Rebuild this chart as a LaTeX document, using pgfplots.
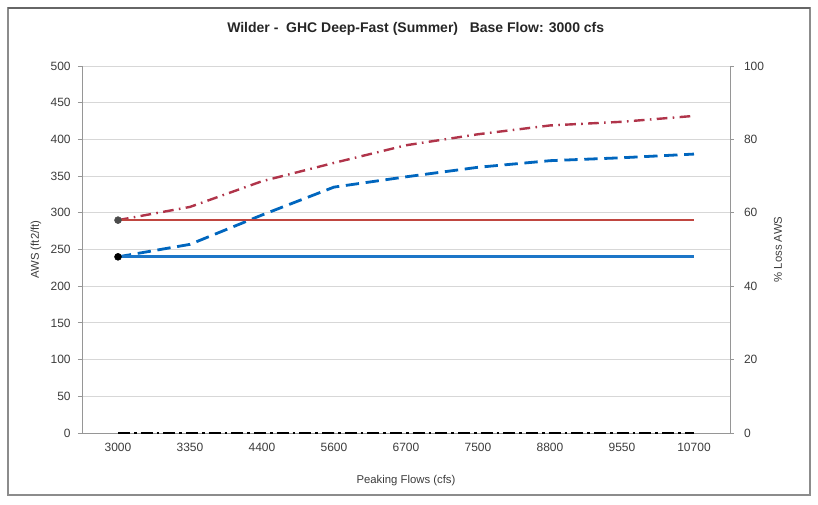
\documentclass[border=0pt]{standalone}
\usepackage{fontspec}
\setmainfont{Liberation Sans}
\usepackage{pgfplots}
\pgfplotsset{compat=1.18}
\definecolor{redsolid}{RGB}{192,70,64}
\definecolor{bluesolid}{RGB}{28,118,200}
\definecolor{reddash}{RGB}{176,52,74}
\definecolor{bluedash}{RGB}{0,102,190}
\definecolor{gridc}{RGB}{215,215,215}
\definecolor{axc}{RGB}{150,150,150}
\definecolor{txt}{RGB}{60,60,60}
\begin{document}
\begin{tikzpicture}[x=0.75pt,y=0.75pt]
\begin{axis}[
  at={(0,0)}, anchor=south west,
  scale only axis, width=486pt, height=275.25pt,
  xmin=-0.5, xmax=8.5, ymin=0, ymax=500,
  xtick={0,...,8},
  xticklabels={3000,3350,4400,5600,6700,7500,8800,9550,10700},
  ytick={0,50,...,500},
  /pgf/number format/assume math mode=true,
  ymajorgrids, grid style={gridc, line width=0.6pt},
  axis x line*=bottom, axis y line*=left,
  axis line style={axc, line width=0.7pt, -},
  every outer x axis line/.append style={-},
  every outer y axis line/.append style={-},
  xtick style={draw=none},
  ytick style={axc, line width=0.6pt},
  tick align=outside, major tick length=3pt,
  ticklabel style={font=\fontsize{9}{10}\selectfont, text=txt},
  xticklabel style={yshift=-1pt},
  yticklabel style={xshift=-2pt},
  xlabel={Peaking Flows (cfs)},
  ylabel={AWS (ft2/ft)},
  xlabel style={font=\fontsize{8.5}{10}\selectfont, text=txt, at={(axis description cs:0.5,-0.131)}, anchor=center},
  ylabel style={font=\fontsize{8.5}{10}\selectfont, text=txt, at={(axis description cs:-0.071,0.5)}, anchor=center},
  title={Wilder -\ \ GHC Deep-Fast (Summer)\ \ \ Base Flow: 3000 cfs},
  title style={font=\bfseries\fontsize{10.5}{12}\selectfont, text=black!85, at={(axis description cs:0.515,1.079)}, anchor=center},
  clip=false,
]
% AWS curves (dashed)
\addplot[reddash, line width=1.8pt, dash pattern=on 8pt off 4pt on 1.2pt off 4pt] coordinates {
 (0,290) (1,308) (2,343) (3,368) (4,392) (5,407) (6,419) (7,424) (8,432)};
\addplot[bluedash, line width=2.1pt, dash pattern=on 10pt off 5pt] coordinates {
 (0,240) (1,257) (2,297) (3,335) (4,349) (5,362) (6,371) (7,375) (8,380)};
% baseline AWS (solid)
\addplot[redsolid, line width=2pt] coordinates {
 (0,290) (1,290) (2,290) (3,290) (4,290) (5,290) (6,290) (7,290) (8,290)};
\addplot[bluesolid, line width=2pt] coordinates {
 (0,240) (1,240) (2,240) (3,240) (4,240) (5,240) (6,240) (7,240) (8,240)};
% start markers
\addplot[only marks, mark=*, mark size=2.6pt, color=black!70, fill=black!70] coordinates {(0,290)};
\addplot[only marks, mark=*, mark size=2.6pt, color=black, fill=black] coordinates {(0,240)};
\end{axis}
\begin{axis}[
  at={(0,0)}, anchor=south west,
  scale only axis, width=486pt, height=275.25pt,
  xmin=-0.5, xmax=8.5, ymin=0, ymax=100,
  axis x line=none, axis y line*=right,
  axis line style={axc, line width=0.7pt, -},
  every outer y axis line/.append style={-},
  ytick={0,20,...,100},
  /pgf/number format/assume math mode=true,
  ytick style={axc, line width=0.6pt},
  tick align=outside, major tick length=3pt,
  ticklabel style={font=\fontsize{9}{10}\selectfont, text=txt},
  yticklabel style={xshift=4pt},
  ylabel={\% Loss AWS},
  ylabel style={font=\fontsize{8.5}{10}\selectfont, text=txt, at={(axis description cs:1.074,0.5)}, anchor=center, rotate=0},
  clip=false,
]
\addplot[black, line width=2pt, dash pattern=on 9pt off 3pt on 2pt off 3pt] coordinates {
 (0,0) (1,0) (2,0) (3,0) (4,0) (5,0) (6,0) (7,0) (8,0)};
\end{axis}
\draw[black!45, line width=0.8pt] (-74,-62) rectangle (728,425);
\draw[black!60, line width=1.2pt] (-74,425) -- (728,425);
\pgfresetboundingbox
\path (-82,-72) rectangle (736,433);
\end{tikzpicture}
\end{document}
